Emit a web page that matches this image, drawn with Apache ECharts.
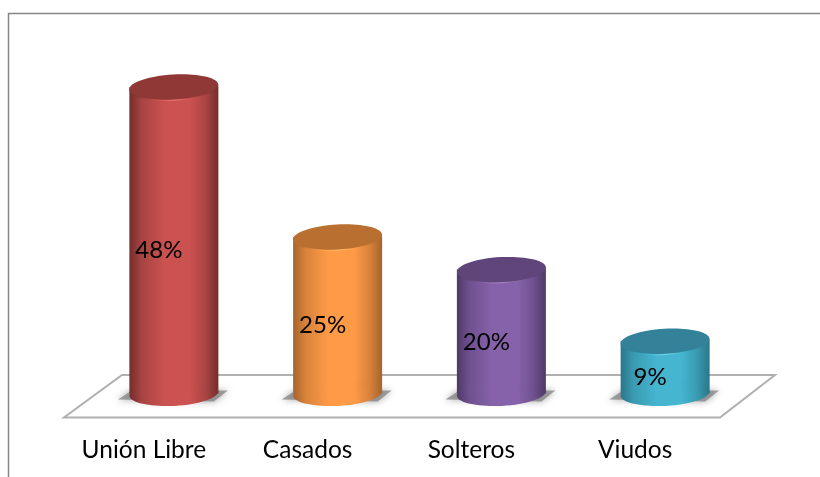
<!DOCTYPE html>
<html><head><meta charset="utf-8">
<style>html,body{margin:0;padding:0;background:#fff}#c{width:820px;height:477px}</style>
<script src="https://cdn.jsdelivr.net/npm/echarts@6/dist/echarts.min.js"></script>
</head><body><div id="c"></div>
<script>
const categories = ['Unión Libre','Casados','Solteros','Viudos'];
const values = [48,25,20,9];
const bodyEdge = ['#742d2c','#a4642c','#4f3966','#2b7689'];
const bodyMid = ['#cb5250','#ff9b47','#8662aa','#45b5d0'];
const bodyShade = ['#a84443','#d9823b','#6f5090','#399ab1'];
const capColors = ['#8f3836','#b86f30','#5f4579','#34829a'];
const rimColors = ['#e8716e','#ffb56a','#a585c5','#6fd0e6'];

function grad(i){
  return {type:'linear',x:0,y:0,x2:1,y2:0,colorStops:[
    {offset:0,color:bodyEdge[i]},{offset:0.14,color:bodyShade[i]},{offset:0.4,color:bodyMid[i]},
    {offset:0.68,color:bodyMid[i]},{offset:0.86,color:bodyShade[i]},{offset:1,color:bodyEdge[i]}]};
}
function rim(i){
  return {type:'linear',x:0,y:0,x2:1,y2:0,colorStops:[
    {offset:0,color:bodyEdge[i]},{offset:0.3,color:bodyMid[i]},{offset:0.5,color:rimColors[i]},
    {offset:0.7,color:bodyMid[i]},{offset:1,color:bodyEdge[i]}]};
}
const chart = echarts.init(document.getElementById('c'),null,{renderer:'canvas'});
chart.setOption({
  animation:false,
  backgroundColor:'#fff',
  graphic:[
    {type:'polyline',z:0,shape:{points:[[8.5,477],[8.5,13.5],[820,13.5]]},style:{fill:null,stroke:'#868686',lineWidth:1.5}},
    {type:'polygon',z:0,shape:{points:[[122,375],[775,375],[720,417.5],[64,417.5]]},style:{fill:'#fff',stroke:'#b0b0b0',lineWidth:2}}
  ],
  grid:{left:92,right:73,top:74,bottom:77},
  xAxis:{type:'category',data:categories,axisLine:{show:false},axisTick:{show:false},
    axisLabel:{margin:38,padding:[0,60,0,0],fontFamily:'Lato',fontSize:24.5,color:'#000',interval:0}},
  yAxis:{type:'value',min:0,max:50,show:false},
  series:[{type:'custom',data:values.map((v,i)=>[i,v]),encode:{x:0,y:1},z:5,
    renderItem(params,api){
      const i=api.value(0), v=api.value(1);
      const top=api.coord([i,v]), base=api.coord([i,0]), mid=api.coord([i,v/2]);
      const rx=44.5, ry=12.5, cx=top[0], by=base[1]-6.6, tilt=0.055;
      return {type:'group',children:[
        {type:'polygon',shape:{points:[[cx-56,by+6],[cx-42,by-3],[cx+54,by-3],[cx+40,by+8]]},
          style:{fill:'rgba(125,125,125,.7)',shadowBlur:7,shadowColor:'rgba(110,110,110,.9)'}},
        {type:'rect',shape:{x:cx-rx,y:top[1],width:rx*2,height:by-top[1]},style:{fill:grad(i)}},
        {type:'ellipse',shape:{cx:cx,cy:by,rx:rx,ry:ry},rotation:tilt,originX:cx,originY:by,style:{fill:grad(i)}},
        {type:'ellipse',shape:{cx:cx,cy:top[1]+1.2,rx:rx,ry:ry},rotation:tilt,originX:cx,originY:top[1],style:{fill:rim(i)}},
        {type:'ellipse',shape:{cx:cx,cy:top[1],rx:rx,ry:ry},rotation:tilt,originX:cx,originY:top[1],style:{fill:capColors[i]}},
        {type:'text',style:{text:v+'%',x:cx-15,y:mid[1]+7,fill:'#000',font:'24px Lato',align:'center',verticalAlign:'middle'}}
      ]};
    }}]
});
</script></body></html>
